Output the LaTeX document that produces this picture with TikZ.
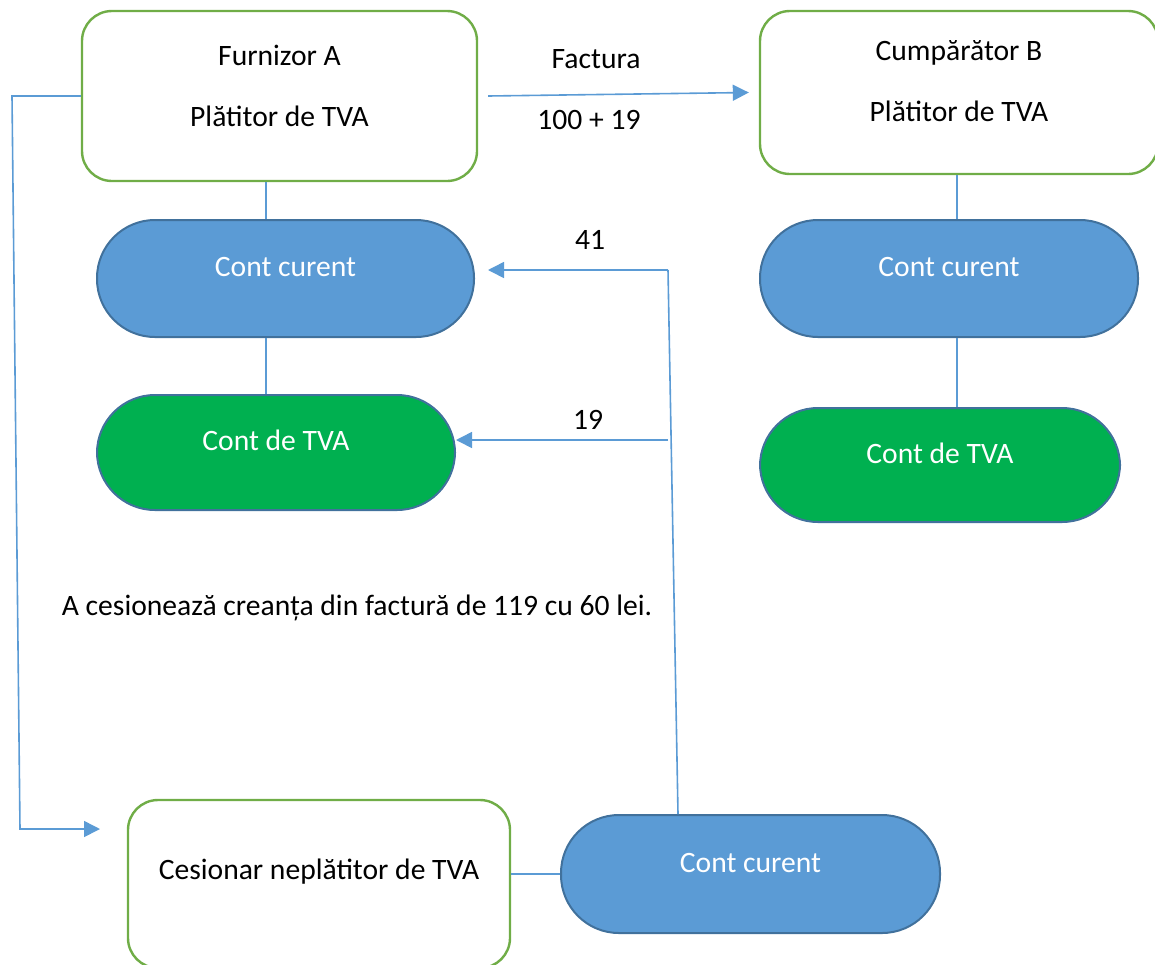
\documentclass[tikz,border=0pt]{standalone}
\usepackage{fontspec}
\setmainfont{Carlito}
\usetikzlibrary{arrows.meta, positioning}

\definecolor{partyGreen}{HTML}{70AD47}
\definecolor{contBlue}{HTML}{5B9BD5}
\definecolor{contEdge}{HTML}{41719C}
\definecolor{tvaGreen}{HTML}{00B050}

\begin{document}
\begin{tikzpicture}[x=0.5pt,y=-0.5pt,
		every node/.style={font=\fontsize{14.8}{18}\selectfont},
		party/.style={draw=partyGreen, line width=1.2pt, fill=white, rounded corners=15pt, inner sep=0pt},
		cont/.style={draw=contEdge, line width=1pt, fill=contBlue, text=white, rounded corners=29pt,
			inner sep=0pt, text height=8pt, text depth=10pt},
		tva/.style={cont, fill=tvaGreen},
		link/.style={draw=contBlue, line width=0.8pt},
		flow/.style={link, -{Triangle[length=8pt,width=8pt]}}]
	\useasboundingbox (0,0) rectangle (1155,964);
	\clip (0,0) rectangle (1155,964);

		% parties
		\node[party, minimum width=197.5pt, minimum height=85pt] (furnA) at (279.5,96) {};
		\node[align=center] (furnAtxt) at ([yshift=5.25pt]furnA.center) {Furnizor A\\[12.5pt]Plătitor de TVA};
		\node[party, minimum width=199pt, minimum height=81.5pt] (cumpB) at (959,92.5) {};
		\node[align=center] (cumpBtxt) at ([yshift=5.5pt]cumpB.center) {Cumpărător B\\[12.5pt]Plătitor de TVA};
		\node[party, minimum width=191pt, minimum height=84pt] (cesNp) at (319,884) {};
		\node (cesNptxt) at ([yshift=6pt]cesNp.center) {Cesionar neplătitor de TVA};

		% accounts
		\node[cont, minimum width=188.5pt, minimum height=58.5pt] (contA) at (285.5,278.5) {Cont curent};
		\node[tva, minimum width=179pt, minimum height=57.5pt] (tvaA) at (276,452.5) {Cont de TVA};
		\node[cont, minimum width=189pt, minimum height=58.5pt] (contB) at (949,278.5) {Cont curent};
		\node[tva, minimum width=180pt, minimum height=57pt] (tvaB) at (940,465) {Cont de TVA};
		\node[cont, minimum width=189.5pt, minimum height=59pt] (contC) at (750.5,874) {Cont curent};

		\node (noteCes) at (357,608) {A cesionează creanța din factură de 119 cu 60 lei.};

		% vertical links
		\coordinate (colA) at (266,0);
		\coordinate (colB) at (957,0);
		\draw[link] (colA |- furnA.south) -- (colA |- contA.north);
		\draw[link] (colA |- contA.south) -- (colA |- tvaA.north);
		\draw[link] (colB |- cumpB.south) -- (colB |- contB.north);
		\draw[link] (colB |- contB.south) -- (colB |- tvaB.north);

		% invoice
		\draw[flow] ([xshift=5pt]furnA.east) -- ([xshift=-5pt]cumpB.west);
		\node (factLbl) at (596,59) {Factura};
		\node (sumLbl) at (589,120) {100 + 19};

		% assignment
		\coordinate (cesIn) at (100,829);
		\draw[flow] (furnA.west) -- (12,96) -- (20,829) -- (cesIn);
		\draw[link] (cesNp.east |- contC.west) -- (contC.west);

		% payments back to A
		\coordinate (split41) at (668,270);
		\coordinate (split19) at (668,440);
		\draw[link] ([xshift=-36.25pt]contC.north) -- (split41);
		\draw[flow] (split41) -- ([xshift=6.5pt]split41 -| contA.east);
		\draw[flow] (split19) -- (split19 -| tvaA.east);
		\node (lbl41) at (590,240) {41};
		\node (lbl19) at (588,420) {19};
\end{tikzpicture}
\end{document}
